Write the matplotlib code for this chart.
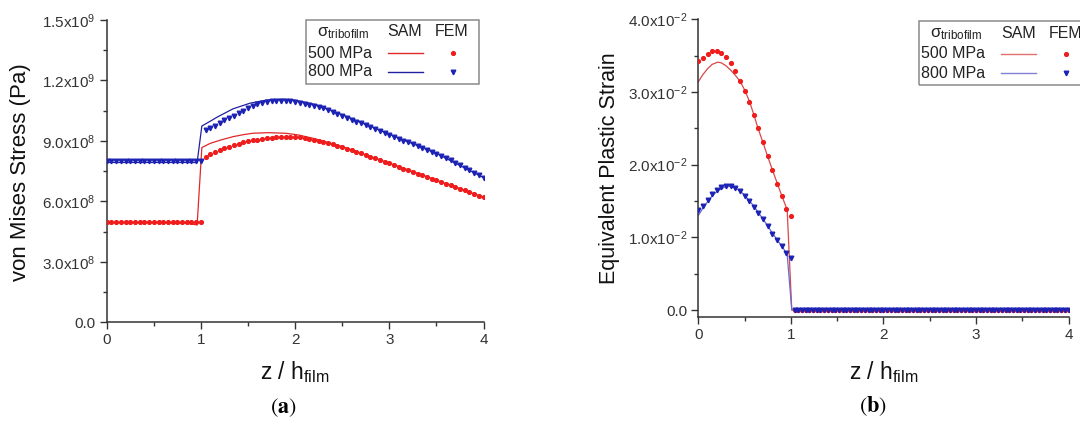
import numpy as np
import matplotlib
matplotlib.use('Agg')
import matplotlib.pyplot as plt
from matplotlib.lines import Line2D
from matplotlib.patches import Rectangle

plt.rcParams['font.family'] = ['Liberation Sans', 'DejaVu Sans']
plt.rcParams['mathtext.fontset'] = 'custom'
plt.rcParams['mathtext.rm'] = 'Liberation Sans'
plt.rcParams['mathtext.it'] = 'Liberation Sans:italic'
plt.rcParams['mathtext.bf'] = 'Liberation Sans:bold'

W, H = 1080, 430

# ---- (a) von Mises stress, values in 1e8 Pa ----
z_fem_a = np.round(np.arange(0, 4.0001, 0.05), 2)
vm_fem_500 = [5.0, 5.0, 5.0, 5.0, 5.0, 5.0, 5.0, 5.0, 5.0, 5.0, 5.0,
              5.0, 5.0, 5.0, 5.0, 5.0, 5.0, 5.0, 5.0, 5.0, 5.0,
              8.22, 8.33, 8.44, 8.54, 8.63, 8.72, 8.80, 8.87, 8.93, 8.98,
              9.03, 9.07, 9.10, 9.13, 9.16, 9.18, 9.19, 9.20, 9.20, 9.19,
              9.17, 9.14, 9.10, 9.06, 9.01, 8.96, 8.90, 8.84, 8.77, 8.70,
              8.62, 8.54, 8.46, 8.38, 8.30, 8.21, 8.13, 8.05, 7.96, 7.88,
              7.80, 7.71, 7.63, 7.55, 7.46, 7.38, 7.29, 7.21, 7.13, 7.05,
              6.96, 6.88, 6.80, 6.71, 6.63, 6.54, 6.46, 6.37, 6.29, 6.20]
vm_fem_800 = [8.0, 8.0, 8.0, 8.0, 8.0, 8.0, 8.0, 8.0, 8.0, 8.0, 8.0,
              8.0, 8.0, 8.0, 8.0, 8.0, 8.0, 8.0, 8.0, 8.0, 8.0,
              9.54, 9.64, 9.75, 9.90, 10.03, 10.15, 10.26, 10.38, 10.50, 10.63,
              10.74, 10.82, 10.89, 10.94, 10.98, 11.00, 11.00, 10.99, 10.96, 10.92,
              10.88, 10.83, 10.78, 10.72, 10.67, 10.61, 10.53, 10.44, 10.35, 10.26,
              10.16, 10.06, 9.96, 9.87, 9.78, 9.68, 9.59, 9.49, 9.40, 9.30,
              9.21, 9.12, 9.02, 8.93, 8.84, 8.74, 8.65, 8.55, 8.45, 8.35,
              8.24, 8.14, 8.03, 7.92, 7.80, 7.68, 7.56, 7.43, 7.30, 7.16]
z_sam_a_500 = [0, 0.5, 0.85, 0.96, 1.01, 1.1, 1.2, 1.34, 1.45, 1.55, 1.72, 1.9,
               2.03, 2.2, 2.5, 3.0, 3.5, 4.0]
vm_sam_500 = [4.95, 4.95, 4.92, 4.83, 8.67, 8.88, 9.03, 9.21, 9.31, 9.38, 9.41, 9.38,
              9.30, 9.12, 8.72, 7.90, 7.06, 6.21]
z_sam_a_800 = [0, 0.5, 0.96, 1.01, 1.1, 1.18, 1.34, 1.52, 1.7, 1.87, 2.0, 2.2,
               2.5, 3.0, 3.5, 4.0]
vm_sam_800 = [7.93, 7.93, 7.93, 9.74, 9.98, 10.2, 10.59, 10.87, 11.03, 11.07, 11.02, 10.82,
              10.3, 9.33, 8.38, 7.18]
yticks_a = [0, 3e8, 6e8, 9e8, 1.2e9, 1.5e9]
yticklabels_a = ['0.0', '3.0x10$^{8}$', '6.0x10$^{8}$', '9.0x10$^{8}$',
                 '1.2x10$^{9}$', '1.5x10$^{9}$']

# ---- (b) equivalent plastic strain, values in 1e-2 ----
z_fem_b = np.concatenate([np.round(np.arange(0, 1.0001, 0.05), 2),
                          np.round(np.arange(1.04, 4.0001, 0.04), 2)])
eps_fem_500 = [3.42, 3.47, 3.52, 3.57, 3.57, 3.54, 3.48, 3.40, 3.29, 3.15, 3.01,
               2.86, 2.68, 2.50, 2.31, 2.12, 1.93, 1.74, 1.57, 1.39, 1.30] + [0.0] * 75
eps_fem_800 = [1.37, 1.43, 1.52, 1.60, 1.65, 1.69, 1.71, 1.71, 1.68, 1.64, 1.57,
               1.50, 1.42, 1.34, 1.25, 1.15, 1.05, 0.96, 0.88, 0.79, 0.72] + [0.0] * 75
z_sam_b_500 = [0, 0.05, 0.1, 0.15, 0.21, 0.25, 0.3, 0.35, 0.4, 0.45, 0.5, 0.55,
               0.6, 0.64, 0.7, 0.75, 0.82, 0.9, 0.96, 1.01, 4.0]
eps_sam_500 = [3.14, 3.24, 3.32, 3.38, 3.41, 3.40, 3.36, 3.30, 3.23, 3.15, 3.03, 2.88,
               2.69, 2.52, 2.30, 2.11, 1.86, 1.58, 1.38, 0.0, 0.0]
z_sam_b_800 = [0, 0.05, 0.1, 0.15, 0.2, 0.25, 0.3, 0.35, 0.4, 0.45, 0.5, 0.6,
               0.7, 0.8, 0.9, 0.96, 1.01, 4.0]
eps_sam_800 = [1.30, 1.40, 1.49, 1.57, 1.63, 1.67, 1.70, 1.70, 1.68, 1.64, 1.58, 1.43,
               1.25, 1.06, 0.88, 0.77, 0.0, 0.0]
yticks_b = [0, 0.01, 0.02, 0.03, 0.04]
yticklabels_b = ['0.0', '1.0x10$^{-2}$', '2.0x10$^{-2}$', '3.0x10$^{-2}$', '4.0x10$^{-2}$']

xticks = [0, 1, 2, 3, 4]
red_m, blue_m = '#f01c1c', '#1c22b4'


def px(x, y):
    return x / W, 1 - y / H


def style_axes(ax, yticks, ylabels, yminor):
    for s in ['top', 'right']:
        ax.spines[s].set_visible(False)
    for s in ['left', 'bottom']:
        ax.spines[s].set_color('#333333')
        ax.spines[s].set_linewidth(1.1)
    ax.set_xlim(0, 4)
    ax.set_xticks(xticks)
    ax.set_xticks([0.5, 1.5, 2.5, 3.5], minor=True)
    ax.set_yticks(yticks)
    ax.set_yticklabels(ylabels)
    ax.set_yticks(yminor, minor=True)
    ax.tick_params(which='major', direction='out', length=5, width=1, colors='#333333',
                   labelsize=11, labelcolor='#333333', pad=3)
    ax.tick_params(which='minor', direction='out', length=3, width=1, colors='#333333')


def legend(fig, left, top, c500, c800):
    fig.patches.append(Rectangle(px(left, top + 64), 173 / W, 64 / H, transform=fig.transFigure,
                                 fill=False, edgecolor='#8a8a8a', lw=1.1, clip_on=False))
    fig.text(*px(left + 11, top + 13), 'σ$_{\\mathrm{tribofilm}}$', fontsize=12,
             ha='left', va='center', color='#222222')
    fig.text(*px(left + 99, top + 12), 'SAM', fontsize=11.5, ha='center', va='center', color='#222222')
    fig.text(*px(left + 146, top + 12), 'FEM', fontsize=11.5, ha='center', va='center', color='#222222')
    rows = [('500 MPa', c500, red_m, 'o', 2.7), ('800 MPa', c800, blue_m, 'v', 3.3)]
    for i, (lab, lc, mc, mk, ms) in enumerate(rows):
        yy = top + 33 + i * 19
        fig.text(*px(left + 1.5, yy), lab, fontsize=11.5, ha='left', va='center', color='#222222')
        x0, y0 = px(left + 82, yy)
        x1, _ = px(left + 117, yy)
        fig.lines.append(Line2D([x0, x1], [y0, y0], transform=fig.transFigure, color=lc, lw=1))
        mx, my = px(left + 147, yy)
        fig.lines.append(Line2D([mx], [my], transform=fig.transFigure, ls='none', marker=mk,
                                ms=ms, color=mc))


fig = plt.figure(figsize=(W / 100, H / 100), dpi=100)

# panel (a)
ax1 = fig.add_axes([106.7 / W, 1 - 322.3 / H, 376.8 / W, 302.3 / H])
ax1.plot(z_sam_a_500, np.array(vm_sam_500) * 1e8, color='#e02828', lw=0.9, zorder=2)
ax1.plot(z_sam_a_800, np.array(vm_sam_800) * 1e8, color='#2020a0', lw=0.9, zorder=2)
ax1.plot(z_fem_a, np.array(vm_fem_500) * 1e8, ls='none', marker='o', ms=2.7, color=red_m, zorder=3)
ax1.plot(z_fem_a, np.array(vm_fem_800) * 1e8, ls='none', marker='v', ms=3.3, color=blue_m, zorder=3)
ax1.set_ylim(0, 1.5e9)
style_axes(ax1, yticks_a, yticklabels_a, [1.5e8, 4.5e8, 7.5e8, 1.05e9, 1.35e9])

# panel (b)
ax2 = fig.add_axes([698.3 / W, 1 - 316.7 / H, 370.2 / W, 297.4 / H])
ax2.plot(z_sam_b_500, np.array(eps_sam_500) * 1e-2, color='#d84848', lw=0.9, zorder=2)
ax2.plot(z_sam_b_800, np.array(eps_sam_800) * 1e-2, color='#6a6ad0', lw=0.9, zorder=2)
ax2.plot(z_fem_b, np.array(eps_fem_500) * 1e-2, ls='none', marker='o', ms=2.7, color=red_m, zorder=3)
ax2.plot(z_fem_b, np.array(eps_fem_800) * 1e-2, ls='none', marker='v', ms=3.3, color=blue_m, zorder=3)
ax2.set_ylim(-0.00092, 0.04)
style_axes(ax2, yticks_b, yticklabels_b, [0.005, 0.015, 0.025, 0.035])

# axis titles
fig.text(*px(21, 172), 'von Mises Stress (Pa)', rotation=90, fontsize=16,
         ha='center', va='center', color='#111111')
fig.text(*px(610, 168), 'Equivalent Plastic Strain', rotation=90, fontsize=15.5,
         ha='center', va='center', color='#111111')
for xc in [295, 884]:
    fig.text(*px(xc, 372), 'z / h$_{\\mathrm{film}}$', fontsize=16.5,
             ha='center', va='center', color='#111111')
fig.text(*px(283, 408), r'$(\mathbf{a})$', math_fontfamily='stix', fontsize=16,
         ha='center', va='center')
fig.text(*px(873, 406), r'$(\mathbf{b})$', math_fontfamily='stix', fontsize=16,
         ha='center', va='center')

legend(fig, 306, 20, '#e02828', '#2020a0')
legend(fig, 919.3, 21, '#e07070', '#8080d8')

fig.savefig('out.png', dpi=100, facecolor='white')
